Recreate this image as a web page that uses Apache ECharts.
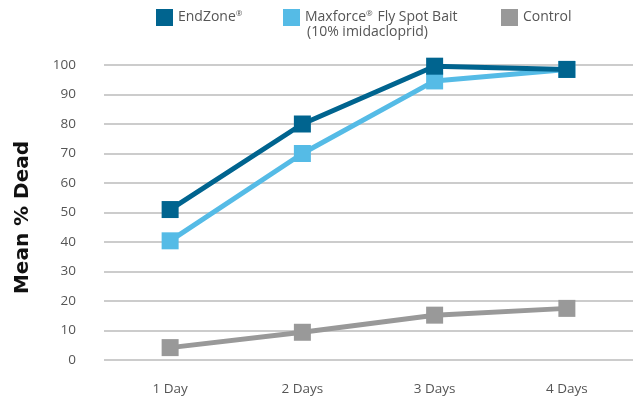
<!DOCTYPE html>
<html>
<head>
<meta charset="utf-8">
<script src="https://cdn.jsdelivr.net/npm/echarts@6/dist/echarts.min.js"></script>
<style>
  html, body { margin: 0; padding: 0; background: #fff; }
  #chart { width: 633px; height: 401px; }
</style>
</head>
<body>
<div id="chart"></div>
<script>
var days = ['1 Day', '2 Days', '3 Days', '4 Days']
var endZone = [51, 80, 99.6, 98.5]
var maxforce = [40.4, 70, 94.6, 98.5]
var control = [4.2, 9.4, 15.2, 17.5]

var font = 'Open Sans'
var lineColors = ['#00648f', '#55bbe6', '#999999']

function mkSeries (name, data, color, z) {
  return {
    name: name,
    type: 'line',
    data: data,
    z: z,
    symbol: 'rect',
    symbolSize: 17,
    itemStyle: { color: color },
    lineStyle: { color: color, width: 5 }
  }
}

function mkLegend (name, left) {
  return {
    data: [name],
    left: left,
    top: 9,
    itemWidth: 17,
    itemHeight: 17,
    icon: 'rect',
    padding: 0,
    selectedMode: false,
    formatter: function (n) {
      if (n === 'EndZone') return 'EndZone{sup|®}'
      if (n === 'Maxforce') return 'Maxforce{sup|®} Fly Spot Bait'
      return n
    },
    textStyle: {
      fontFamily: font,
      fontSize: 14,
      color: '#555',
      rich: {
        sup: { fontFamily: font, fontSize: 8, verticalAlign: 'top', color: '#555', padding: [0, 1, 7, 0] }
      }
    }
  }
}

var chart = echarts.init(document.getElementById('chart'))
chart.setOption({
  animation: false,
  legend: [
    mkLegend('EndZone', 156),
    mkLegend('Maxforce', 283),
    mkLegend('Control', 501)
  ],
  graphic: [{
    type: 'text',
    left: 307,
    top: 25,
    style: { text: '(10% imidacloprid)', fontFamily: font, fontSize: 14, fill: '#555' }
  }],
  grid: { left: 104, right: -1, top: 65, bottom: 41 },
  xAxis: {
    type: 'category',
    data: days,
    boundaryGap: true,
    axisLine: { show: false },
    axisTick: { show: false },
    axisLabel: { margin: 22, fontFamily: font, fontSize: 13.5, color: '#555' }
  },
  yAxis: {
    type: 'value',
    min: 0,
    max: 100,
    interval: 10,
    name: 'Mean % Dead',
    nameLocation: 'middle',
    nameGap: 71,
    nameTextStyle: {
      fontFamily: 'DejaVu Sans',
      fontSize: 20,
      fontWeight: 'bold',
      color: '#111',
      padding: [0, 10, 0, 0]
    },
    axisLine: { show: false },
    axisTick: { show: false },
    axisLabel: { margin: 28, fontFamily: font, fontSize: 13.5, color: '#555' },
    splitLine: { lineStyle: { color: '#bbbbbb', width: 1.5 } }
  },
  series: [
    mkSeries('Control', control, lineColors[2], 1),
    mkSeries('Maxforce', maxforce, lineColors[1], 2),
    mkSeries('EndZone', endZone, lineColors[0], 3)
  ]
})
</script>
</body>
</html>
